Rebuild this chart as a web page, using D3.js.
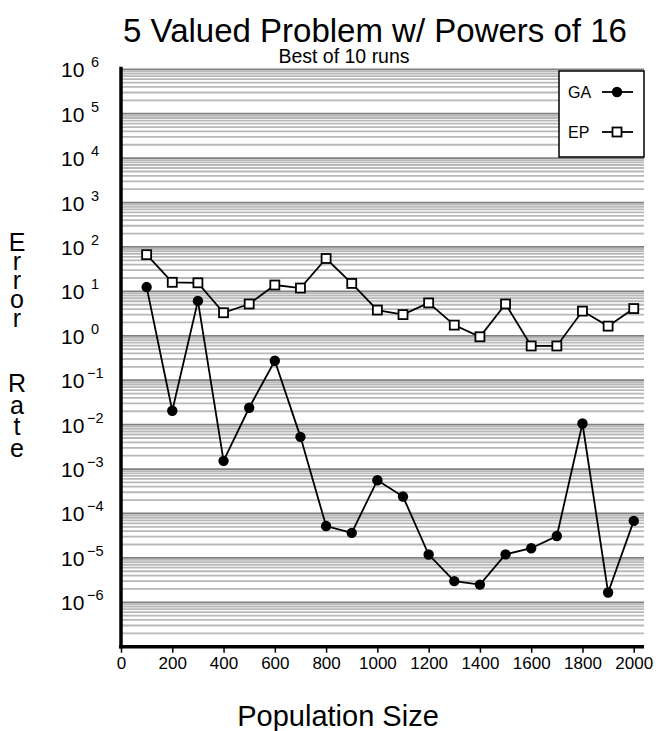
<!DOCTYPE html>
<html>
<head>
<meta charset="utf-8">
<script src="https://cdn.jsdelivr.net/npm/d3@7"></script>
<style>
    body { margin: 0; background: #fff; }
    text { font-family: 'Liberation Sans', Arial, sans-serif; fill: #000; }
</style>
</head>
<body>
<div id="canvas"></div>
<script>
var popSizes = [100, 200, 300, 400, 500, 600, 700, 800, 900, 1000,
    1100, 1200, 1300, 1400, 1500, 1600, 1700, 1800, 1900, 2000];
var gaErrors = [12.5, 0.0205, 6.1, 0.00153, 0.024, 0.274, 0.0053, 5.2e-5, 3.66e-5, 5.6e-4,
    2.4e-4, 1.19e-5, 3.0e-6, 2.5e-6, 1.2e-5, 1.65e-5, 3.1e-5, 0.0106, 1.66e-6, 6.8e-5];
var epErrors = [67, 16, 15.6, 3.3, 5.2, 13.9, 11.9, 55, 15.1, 3.8,
    3.0, 5.5, 1.74, 0.95, 5.2, 0.59, 0.59, 3.6, 1.65, 4.1];
var xTicks = [0, 200, 400, 600, 800, 1000, 1200, 1400, 1600, 1800, 2000];
var yExponents = [6, 5, 4, 3, 2, 1, 0, -1, -2, -3, -4, -5, -6];
var seriesNames = ['GA', 'EP'];

var plotLeft = 121, plotRight = 644, plotTop = 69.3, plotBottom = 646.7;

var svg = d3.select('#canvas').append('svg')
    .attr('width', 656)
    .attr('height', 731);

var x = d3.scaleLinear().domain([0, 2040]).range([plotLeft, plotRight]);
var y = d3.scaleLog().domain([1e-7, 1e6]).range([plotBottom, plotTop]);

// log grid: minor lines first, decade lines on top
var minor = [];
var major = [];
for (var e = -7; e < 6; e++) {
    for (var k = 2; k <= 9; k++) {
        minor.push(k * Math.pow(10, e));
    }
}
for (var e = -6; e <= 6; e++) {
    major.push(Math.pow(10, e));
}

var grid = svg.append('g');
grid.selectAll('.minor')
    .data(minor)
    .enter()
    .append('line')
    .attr('x1', plotLeft)
    .attr('x2', plotRight)
    .attr('y1', function(d) { return y(d); })
    .attr('y2', function(d) { return y(d); })
    .attr('stroke', '#b8b8b8')
    .attr('stroke-width', 1.8);
grid.selectAll('.major')
    .data(major)
    .enter()
    .append('line')
    .attr('x1', plotLeft)
    .attr('x2', plotRight)
    .attr('y1', function(d) { return y(d); })
    .attr('y2', function(d) { return y(d); })
    .attr('stroke', '#808080')
    .attr('stroke-width', 1.8);

// axes
var xAxis = d3.axisBottom(x)
    .tickValues(xTicks)
    .tickSize(6)
    .tickFormat(d3.format('d'));
var gx = svg.append('g')
    .attr('transform', 'translate(0,' + plotBottom + ')')
    .call(xAxis);
gx.select('.domain').remove();
gx.selectAll('.tick line').attr('stroke', '#000').attr('stroke-width', 1.5);
gx.selectAll('.tick text')
    .attr('font-size', 17)
    .attr('font-family', "'Liberation Sans', Arial, sans-serif")
    .attr('y', 10);

svg.append('line')
    .attr('x1', plotLeft - 2).attr('x2', plotRight)
    .attr('y1', plotBottom).attr('y2', plotBottom)
    .attr('stroke', '#000')
    .attr('stroke-width', 3.5);
svg.append('line')
    .attr('x1', plotLeft).attr('x2', plotLeft)
    .attr('y1', plotTop - 2.5).attr('y2', plotBottom + 1.5)
    .attr('stroke', '#000')
    .attr('stroke-width', 3.5);

var yLabels = svg.append('g').selectAll('text')
    .data(yExponents)
    .enter()
    .append('text')
    .attr('y', function(d) { return y(Math.pow(10, d)) + 8; });
yLabels.append('tspan')
    .attr('x', 61)
    .attr('font-size', 21)
    .text('10');
yLabels.append('tspan')
    .attr('x', function(d) { return d < 0 ? 87 : 91; })
    .attr('dy', -10)
    .attr('font-size', 14.5)
    .text(function(d) { return d < 0 ? '\u2212' + (-d) : d; });

// series
var line = d3.line()
    .x(function(d) { return x(d[0]); })
    .y(function(d) { return y(d[1]); });

var gaData = d3.zip(popSizes, gaErrors);
var epData = d3.zip(popSizes, epErrors);

svg.append('path')
    .attr('d', line(gaData))
    .attr('fill', 'none')
    .attr('stroke', '#000')
    .attr('stroke-width', 1.8);
svg.append('path')
    .attr('d', line(epData))
    .attr('fill', 'none')
    .attr('stroke', '#000')
    .attr('stroke-width', 1.8);

svg.append('g').selectAll('circle')
    .data(gaData)
    .enter()
    .append('circle')
    .attr('cx', function(d) { return x(d[0]); })
    .attr('cy', function(d) { return y(d[1]); })
    .attr('r', 5.2)
    .attr('fill', '#000');

svg.append('g').selectAll('rect')
    .data(epData)
    .enter()
    .append('rect')
    .attr('x', function(d) { return x(d[0]) - 4.5; })
    .attr('y', function(d) { return y(d[1]) - 4.5; })
    .attr('width', 9)
    .attr('height', 9)
    .attr('fill', '#fff')
    .attr('stroke', '#000')
    .attr('stroke-width', 1.8);

// legend
var legend = svg.append('g');
legend.append('rect')
    .attr('x', 559).attr('y', 71)
    .attr('width', 85).attr('height', 86)
    .attr('fill', '#fff')
    .attr('stroke', '#000')
    .attr('stroke-width', 1.5);
var rows = legend.selectAll('.row')
    .data(seriesNames)
    .enter()
    .append('g')
    .attr('transform', function(d, i) { return 'translate(0,' + (92 + i * 40) + ')'; });
rows.append('text')
    .attr('x', 568)
    .attr('y', 6)
    .attr('font-size', 16)
    .text(function(d) { return d; });
rows.append('line')
    .attr('x1', 602).attr('x2', 633)
    .attr('stroke', '#000')
    .attr('stroke-width', 1.8);
rows.filter(function(d) { return d === 'GA'; })
    .append('circle')
    .attr('cx', 617)
    .attr('r', 5.2)
    .attr('fill', '#000');
rows.filter(function(d) { return d === 'EP'; })
    .append('rect')
    .attr('x', 612.5).attr('y', -4.5)
    .attr('width', 9).attr('height', 9)
    .attr('fill', '#fff')
    .attr('stroke', '#000')
    .attr('stroke-width', 1.8);

// titles
svg.append('text')
    .attr('x', 375)
    .attr('y', 42)
    .attr('text-anchor', 'middle')
    .attr('font-size', 33)
    .text('5 Valued Problem w/ Powers of 16');
svg.append('text')
    .attr('x', 344)
    .attr('y', 63)
    .attr('text-anchor', 'middle')
    .attr('font-size', 19.5)
    .text('Best of 10 runs');
svg.append('text')
    .attr('x', 338)
    .attr('y', 726)
    .attr('text-anchor', 'middle')
    .attr('font-size', 29)
    .text('Population Size');

// stacked letters for the vertical axis title
var yTitleWords = ['Error', 'Rate'];
var yTitle = svg.append('g');
yTitleWords.forEach(function(word, w) {
    yTitle.selectAll('.w' + w)
        .data(word.split(''))
        .enter()
        .append('text')
        .attr('x', 17)
        .attr('y', function(d, i) { return (w === 0 ? 251 : 392) + i * (w === 0 ? 19 : 21.5); })
        .attr('text-anchor', 'middle')
        .attr('font-size', 25)
        .text(function(d) { return d; });
});
</script>
</body>
</html>
